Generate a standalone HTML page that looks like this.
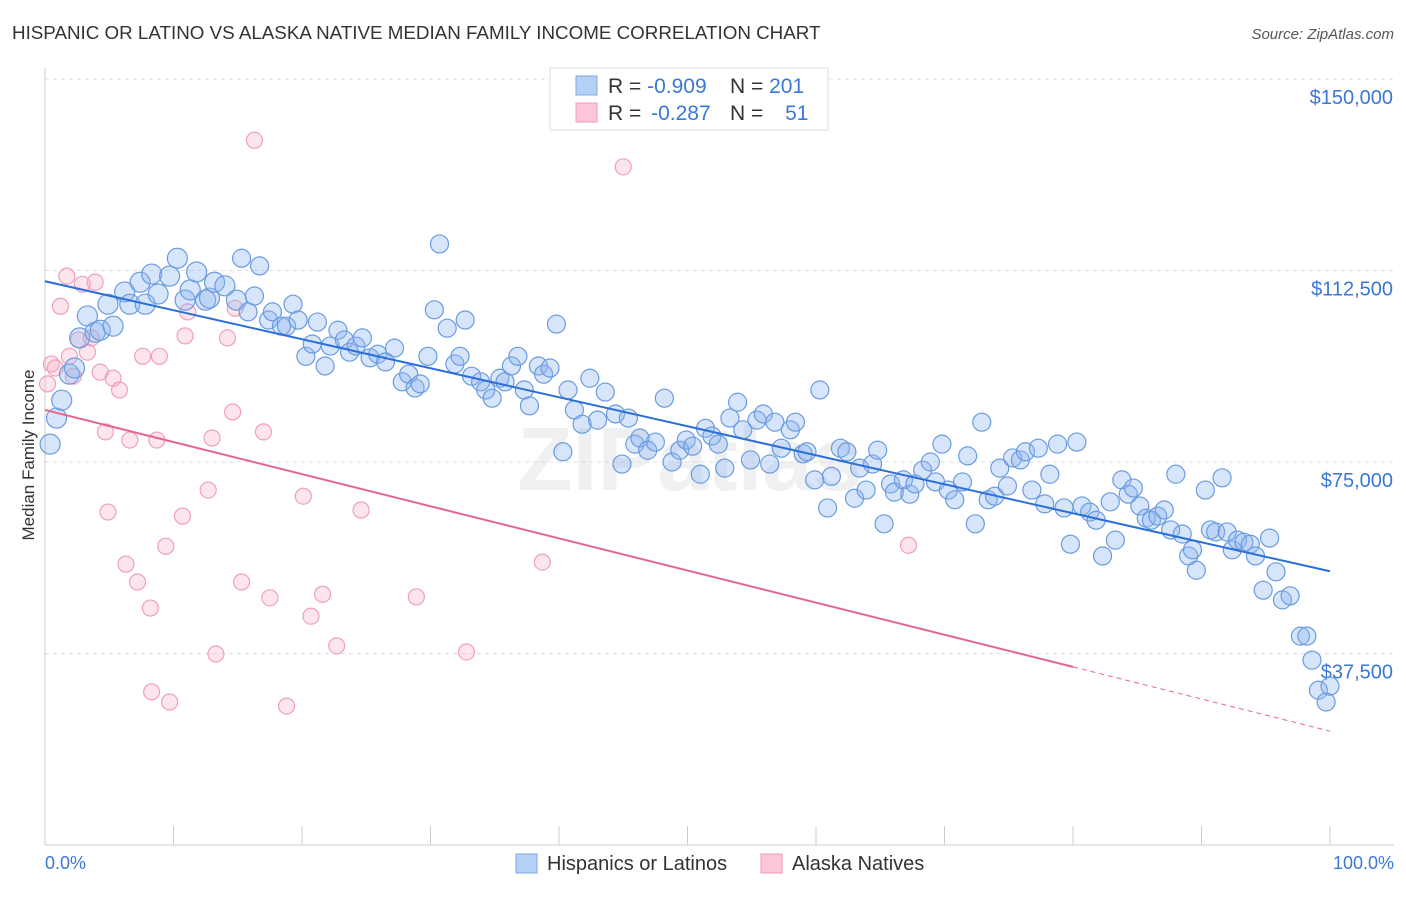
<!DOCTYPE html>
<html><head><meta charset="utf-8"><style>
body{margin:0;background:#fff;font-family:"Liberation Sans",sans-serif;}
svg text{font-family:"Liberation Sans",sans-serif;}
</style></head><body>
<svg width="1406" height="892" xmlns="http://www.w3.org/2000/svg">
<text x="12" y="39" font-size="18.8" fill="#333">HISPANIC OR LATINO VS ALASKA NATIVE MEDIAN FAMILY INCOME CORRELATION CHART</text>
<text x="1394" y="39" font-size="15" fill="#555" font-style="italic" text-anchor="end">Source: ZipAtlas.com</text>
<text x="690" y="490" font-size="90" fill="#eef0f2" text-anchor="middle" font-weight="bold">ZIPatlas</text>
<g id="grid"></g>
<g id="axes"></g>
<g id="pts"></g>
<g id="trend"></g>
<text x="34" y="455" font-size="17" fill="#333" text-anchor="middle" transform="rotate(-90 34 455)">Median Family Income</text>
<text x="45" y="869" font-size="18" fill="#3a78d8">0.0%</text>
<text x="1394" y="869" font-size="18" fill="#3a78d8" text-anchor="end">100.0%</text>
<g>
<rect x="550" y="68" width="278" height="62" fill="#fff" stroke="#ddd"/>
<rect x="576" y="76" width="21" height="19" fill="#b5d0f5" stroke="#7aa8e8"/>
<rect x="576" y="103" width="21" height="19" fill="#fcc8d8" stroke="#f09ab5"/>
<text x="608" y="93" font-size="21" fill="#333">R = <tspan fill="#3a78d8">-0.909</tspan></text>
<text x="730" y="93" font-size="21" fill="#333">N = <tspan fill="#3a78d8">201</tspan></text>
<text x="608" y="120" font-size="21" fill="#333">R = <tspan fill="#3a78d8" dx="4">-0.287</tspan></text>
<text x="730" y="120" font-size="21" fill="#333">N = <tspan fill="#3a78d8" dx="16">51</tspan></text>
</g>
<g>
<rect x="516" y="854" width="21" height="19" fill="#b5d0f5" stroke="#7aa8e8"/>
<text x="547" y="870" font-size="20" fill="#333">Hispanics or Latinos</text>
<rect x="761" y="854" width="21" height="19" fill="#fcc8d8" stroke="#f09ab5"/>
<text x="792" y="870" font-size="20" fill="#333">Alaska Natives</text>
</g>
</svg>
<script>
const yTicks=[150000,112500,75000,37500];
const yTickLabels=["$150,000","$112,500","$75,000","$37,500"];
const xTicks=[0,10,20,30,40,50,60,70,80,90,100];
const blueX=[0.4,0.9,1.3,1.9,2.3,2.7,3.3,3.9,4.3,5.3,4.9,6.2,6.6,7.4,7.8,8.3,8.8,9.7,10.3,10.9,11.3,11.8,12.5,12.8,13.2,14.0,14.9,15.3,15.8,16.3,16.7,17.4,17.7,18.4,18.8,19.3,19.7,20.3,20.8,21.2,21.8,22.2,22.8,23.3,23.7,24.2,24.7,25.3,25.9,26.5,27.2,27.8,28.3,28.8,29.2,29.8,30.3,30.7,31.3,31.9,32.3,32.7,33.2,33.9,34.3,34.8,35.4,35.8,36.3,36.8,37.3,37.7,38.4,38.8,39.3,39.8,40.3,40.7,41.2,41.8,42.4,43.0,43.6,44.4,44.9,45.4,45.9,46.3,46.9,47.5,48.2,48.8,49.4,49.9,50.4,51.0,51.4,51.9,52.4,52.9,53.3,53.9,54.3,54.9,55.4,55.9,56.4,56.8,57.3,58.0,58.4,59.0,59.3,59.9,60.3,60.9,61.2,61.9,62.4,63.0,63.4,63.9,64.4,64.8,65.3,65.8,66.1,66.8,67.3,67.7,68.3,68.9,69.3,69.8,70.3,70.8,71.4,71.8,72.4,72.9,73.4,73.9,74.3,74.9,75.3,75.9,76.3,76.8,77.3,77.8,78.2,78.8,79.3,79.8,80.3,80.7,81.3,81.8,82.3,82.9,83.3,83.8,84.3,84.7,85.2,85.7,86.1,86.6,87.1,87.6,88.0,88.5,89.0,89.3,89.6,90.3,90.7,91.1,91.6,92.0,92.4,92.8,93.3,93.8,94.2,94.8,95.3,95.8,96.3,96.9,97.7,98.2,98.6,99.1,99.7,100];
const blueY=[78.5,83.6,87.1,92.2,93.4,99.3,103.6,100.4,100.8,101.6,105.9,108.3,105.9,110.2,105.9,111.8,107.9,111.4,114.9,106.7,108.7,112.2,106.7,107.1,110.2,109.5,106.7,114.9,104.4,107.5,113.4,102.8,104.4,101.6,101.6,105.9,102.8,95.7,98.1,102.4,93.8,97.7,100.8,98.9,96.5,97.7,99.3,95.4,96.1,94.6,97.3,90.7,92.2,89.5,90.3,95.7,104.8,117.7,101.2,94.2,95.7,102.8,91.8,90.7,89.1,87.5,91.4,90.7,93.8,95.7,89.1,86.0,93.8,92.2,93.4,102.0,77.0,89.1,85.2,82.4,91.4,83.2,88.7,84.4,74.6,83.6,78.5,79.7,77.3,78.9,87.5,75.0,77.3,79.3,78.1,72.6,81.6,80.1,78.5,73.8,83.6,86.7,81.3,75.4,83.2,84.4,74.6,82.8,77.7,81.3,82.8,76.6,77.0,71.5,89.1,66.0,72.2,77.7,77.0,67.9,73.8,69.5,74.6,77.3,62.9,70.7,69.1,71.5,68.7,70.7,73.4,75.0,71.1,78.5,69.5,67.6,71.1,76.2,62.9,82.8,67.6,68.3,73.8,70.3,75.8,75.4,77.0,69.5,77.7,66.8,72.6,78.5,66.0,58.9,78.9,66.4,65.2,63.6,56.6,67.2,59.7,71.5,68.7,69.9,66.4,64.0,63.6,64.4,65.6,61.7,72.6,60.9,56.6,57.8,53.8,69.5,61.7,61.3,71.9,61.3,57.8,59.7,59.3,58.9,56.6,49.9,60.1,53.5,48.0,48.8,40.9,40.9,36.2,30.3,28.0,31.1];
const pinkX=[0.2,0.5,0.8,1.2,1.7,2.2,2.6,1.9,2.9,3.3,3.9,4.3,4.7,4.9,5.3,5.8,6.3,6.6,7.2,7.6,8.2,8.3,8.7,8.9,9.4,9.7,10.7,10.9,11.1,12.7,13.0,13.3,14.2,14.6,14.8,15.3,16.3,17.0,17.5,18.8,20.1,20.7,21.6,22.7,24.6,28.9,32.8,38.7,45.0,67.2,3.6];
const pinkY=[90.3,94.2,93.4,105.5,111.4,91.8,98.9,95.7,109.8,96.5,110.2,92.6,80.9,65.2,91.4,89.1,55.0,79.3,51.5,95.7,46.4,30.0,79.3,95.7,58.5,28.0,64.4,99.7,104.4,69.5,79.7,37.4,99.3,84.8,105.1,51.5,138.0,80.9,48.4,27.2,68.3,44.8,49.1,39.0,65.6,48.6,37.8,55.4,132.8,58.7,99.3];
const blueTrend=[110.4,53.6];
const pinkTrend=[85.2,22.3];
const pinkSolidEnd=80;
const NS="http://www.w3.org/2000/svg";
function sx(p){return 45+p*12.85;}
function sy(v){return 845-v*1000/150000*766;}
function mk(t,a,parent){const e=document.createElementNS(NS,t);for(const k in a)e.setAttribute(k,a[k]);parent.appendChild(e);return e;}
const grid=document.getElementById('grid'),axes=document.getElementById('axes'),pts=document.getElementById('pts'),tr=document.getElementById('trend');
yTicks.forEach((v,i)=>{
 const l=mk('line',{x1:45,x2:1394,y1:sy(v/1000),y2:sy(v/1000),stroke:'#ddd','stroke-dasharray':'4,4'},grid);
 
 
 const t=mk('text',{x:1393,y:sy(v/1000)+25,'font-size':20,fill:'#3a78d8','text-anchor':'end'},axes);
 t.textContent=yTickLabels[i];
 
 
});
const ax=mk('line',{x1:45,x2:1394,y1:845,y2:845,stroke:'#ccc'},axes);


const ay=mk('line',{x1:45,x2:45,y1:68,y2:845,stroke:'#ccc'},axes);


xTicks.forEach(p=>{
 const t=mk('line',{x1:sx(p),x2:sx(p),y1:826,y2:845,stroke:'#ccc'},axes);
 
 
});
pinkX.forEach((x,i)=>{
 const c=mk('circle',{cx:sx(x),cy:sy(pinkY[i]),r:8,fill:'rgba(248,170,195,0.3)',stroke:'#f0a0ba','stroke-width':1.2},pts);
 
 
});
blueX.forEach((x,i)=>{
 const c=mk('circle',{cx:sx(x),cy:sy(blueY[i]),r:x<15?10:9,fill:'rgba(140,180,240,0.35)',stroke:'#6a9be0','stroke-width':1.2},pts);
 
 
});
const bl=mk('line',{x1:sx(0),y1:sy(blueTrend[0]),x2:sx(100),y2:sy(blueTrend[1]),stroke:'#2a6fd8','stroke-width':2},tr);


const pe=pinkTrend[0]+(pinkTrend[1]-pinkTrend[0])*pinkSolidEnd/100;
const pl=mk('line',{x1:sx(0),y1:sy(pinkTrend[0]),x2:sx(pinkSolidEnd),y2:sy(pe),stroke:'#e8648f','stroke-width':2},tr);


const pd=mk('line',{x1:sx(pinkSolidEnd),y1:sy(pe),x2:sx(100),y2:sy(pinkTrend[1]),stroke:'#e8648f','stroke-width':1,'stroke-dasharray':'5,4'},tr);


</script>
</body></html>
